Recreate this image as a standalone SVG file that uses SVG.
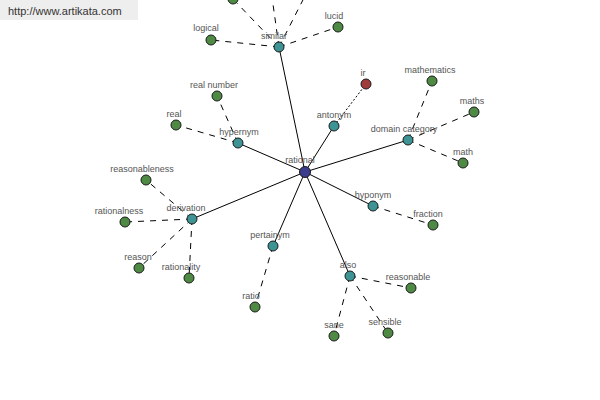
<svg xmlns="http://www.w3.org/2000/svg" width="600" height="400" viewBox="0 0 600 400">
<style>
.s{stroke:#000;stroke-width:1;fill:none}
.d{stroke:#000;stroke-width:1;stroke-dasharray:6,6;fill:none}
.o{stroke:#000;stroke-width:1;stroke-dasharray:2,2;fill:none}
.n circle{stroke:#1a1a1a;stroke-width:1}
.g{fill:#4f8a45}
.t{fill:#3e9494}
.r{fill:#a03c3c}
.b{fill:#3c3c8c}
text{font-family:"Liberation Sans",Arial,sans-serif;font-size:9px;fill:#555;text-anchor:middle}
</style>
<rect x="0" y="0" width="138" height="20" fill="#eeeeee"/>
<text x="8" y="15" style="text-anchor:start;font-size:11px;fill:#333">http://www.artikata.com</text>
<g id="connectors">
<line class="s" x1="305" y1="172" x2="279" y2="47"/>
<line class="s" x1="305" y1="172" x2="238" y2="143"/>
<line class="s" x1="305" y1="172" x2="334" y2="126"/>
<line class="s" x1="305" y1="172" x2="408" y2="140"/>
<line class="s" x1="305" y1="172" x2="192" y2="219"/>
<line class="s" x1="305" y1="172" x2="273" y2="246"/>
<line class="s" x1="305" y1="172" x2="373" y2="206"/>
<line class="s" x1="305" y1="172" x2="350" y2="276"/>
<line class="d" x1="279" y1="47" x2="211" y2="40"/>
<line class="d" x1="279" y1="47" x2="338" y2="27"/>
<line class="d" x1="279" y1="47" x2="233" y2="-1"/>
<line class="d" x1="279" y1="47" x2="271" y2="-10"/>
<line class="d" x1="279" y1="47" x2="308" y2="-10"/>
<line class="d" x1="238" y1="143" x2="217" y2="96"/>
<line class="d" x1="238" y1="143" x2="176" y2="125"/>
<line class="o" x1="334" y1="126" x2="366" y2="84"/>
<line class="d" x1="408" y1="140" x2="432" y2="81"/>
<line class="d" x1="408" y1="140" x2="474" y2="112"/>
<line class="d" x1="408" y1="140" x2="463" y2="163"/>
<line class="d" x1="192" y1="219" x2="146" y2="180"/>
<line class="d" x1="192" y1="219" x2="125" y2="222"/>
<line class="d" x1="192" y1="219" x2="139" y2="268"/>
<line class="d" x1="192" y1="219" x2="189" y2="278"/>
<line class="d" x1="273" y1="246" x2="255" y2="307"/>
<line class="d" x1="373" y1="206" x2="433" y2="225"/>
<line class="d" x1="350" y1="276" x2="411" y2="288"/>
<line class="d" x1="350" y1="276" x2="334" y2="336"/>
<line class="d" x1="350" y1="276" x2="388" y2="333"/>
</g>
<g id="n-top" class="n"><circle class="g" cx="233" cy="-1" r="5"/></g>
<g id="n-similar" class="n"><circle class="t" cx="279" cy="47" r="5"/><text x="274" y="39">similar</text></g>
<g id="n-logical" class="n"><circle class="g" cx="211" cy="40" r="5"/><text x="206" y="31">logical</text></g>
<g id="n-lucid" class="n"><circle class="g" cx="338" cy="27" r="5"/><text x="334" y="19">lucid</text></g>
<g id="n-hypernym" class="n"><circle class="t" cx="238" cy="143" r="5"/><text x="239" y="135">hypernym</text></g>
<g id="n-realnumber" class="n"><circle class="g" cx="217" cy="96" r="5"/><text x="214" y="88">real number</text></g>
<g id="n-real" class="n"><circle class="g" cx="176" cy="125" r="5"/><text x="174" y="117">real</text></g>
<g id="n-antonym" class="n"><circle class="t" cx="334" cy="126" r="5"/><text x="334" y="118">antonym</text></g>
<g id="n-ir" class="n"><circle class="r" cx="366" cy="84" r="5"/><text x="363" y="76">ir</text></g>
<g id="n-domain" class="n"><circle class="t" cx="408" cy="140" r="5"/><text x="404" y="132">domain category</text></g>
<g id="n-mathematics" class="n"><circle class="g" cx="432" cy="81" r="5"/><text x="430" y="73">mathematics</text></g>
<g id="n-maths" class="n"><circle class="g" cx="474" cy="112" r="5"/><text x="472" y="104">maths</text></g>
<g id="n-math" class="n"><circle class="g" cx="463" cy="163" r="5"/><text x="463" y="155">math</text></g>
<g id="n-derivation" class="n"><circle class="t" cx="192" cy="219" r="5"/><text x="186" y="211">derivation</text></g>
<g id="n-reasonableness" class="n"><circle class="g" cx="146" cy="180" r="5"/><text x="142" y="172">reasonableness</text></g>
<g id="n-rationalness" class="n"><circle class="g" cx="125" cy="222" r="5"/><text x="119" y="214">rationalness</text></g>
<g id="n-reason" class="n"><circle class="g" cx="139" cy="268" r="5"/><text x="138" y="260">reason</text></g>
<g id="n-rationality" class="n"><circle class="g" cx="189" cy="278" r="5"/><text x="181" y="270">rationality</text></g>
<g id="n-pertainym" class="n"><circle class="t" cx="273" cy="246" r="5"/><text x="270" y="238">pertainym</text></g>
<g id="n-ratio" class="n"><circle class="g" cx="255" cy="307" r="5"/><text x="251" y="299">ratio</text></g>
<g id="n-hyponym" class="n"><circle class="t" cx="373" cy="206" r="5"/><text x="373" y="198">hyponym</text></g>
<g id="n-fraction" class="n"><circle class="g" cx="433" cy="225" r="5"/><text x="428" y="217">fraction</text></g>
<g id="n-also" class="n"><circle class="t" cx="350" cy="276" r="5"/><text x="348" y="268">also</text></g>
<g id="n-reasonable" class="n"><circle class="g" cx="411" cy="288" r="5"/><text x="408" y="280">reasonable</text></g>
<g id="n-sane" class="n"><circle class="g" cx="334" cy="336" r="5"/><text x="334" y="328">sane</text></g>
<g id="n-sensible" class="n"><circle class="g" cx="388" cy="333" r="5"/><text x="385" y="325">sensible</text></g>
<g id="n-rational" class="n"><circle class="b" cx="305" cy="172" r="5.5"/><text x="300" y="163">rational</text></g>
</svg>
